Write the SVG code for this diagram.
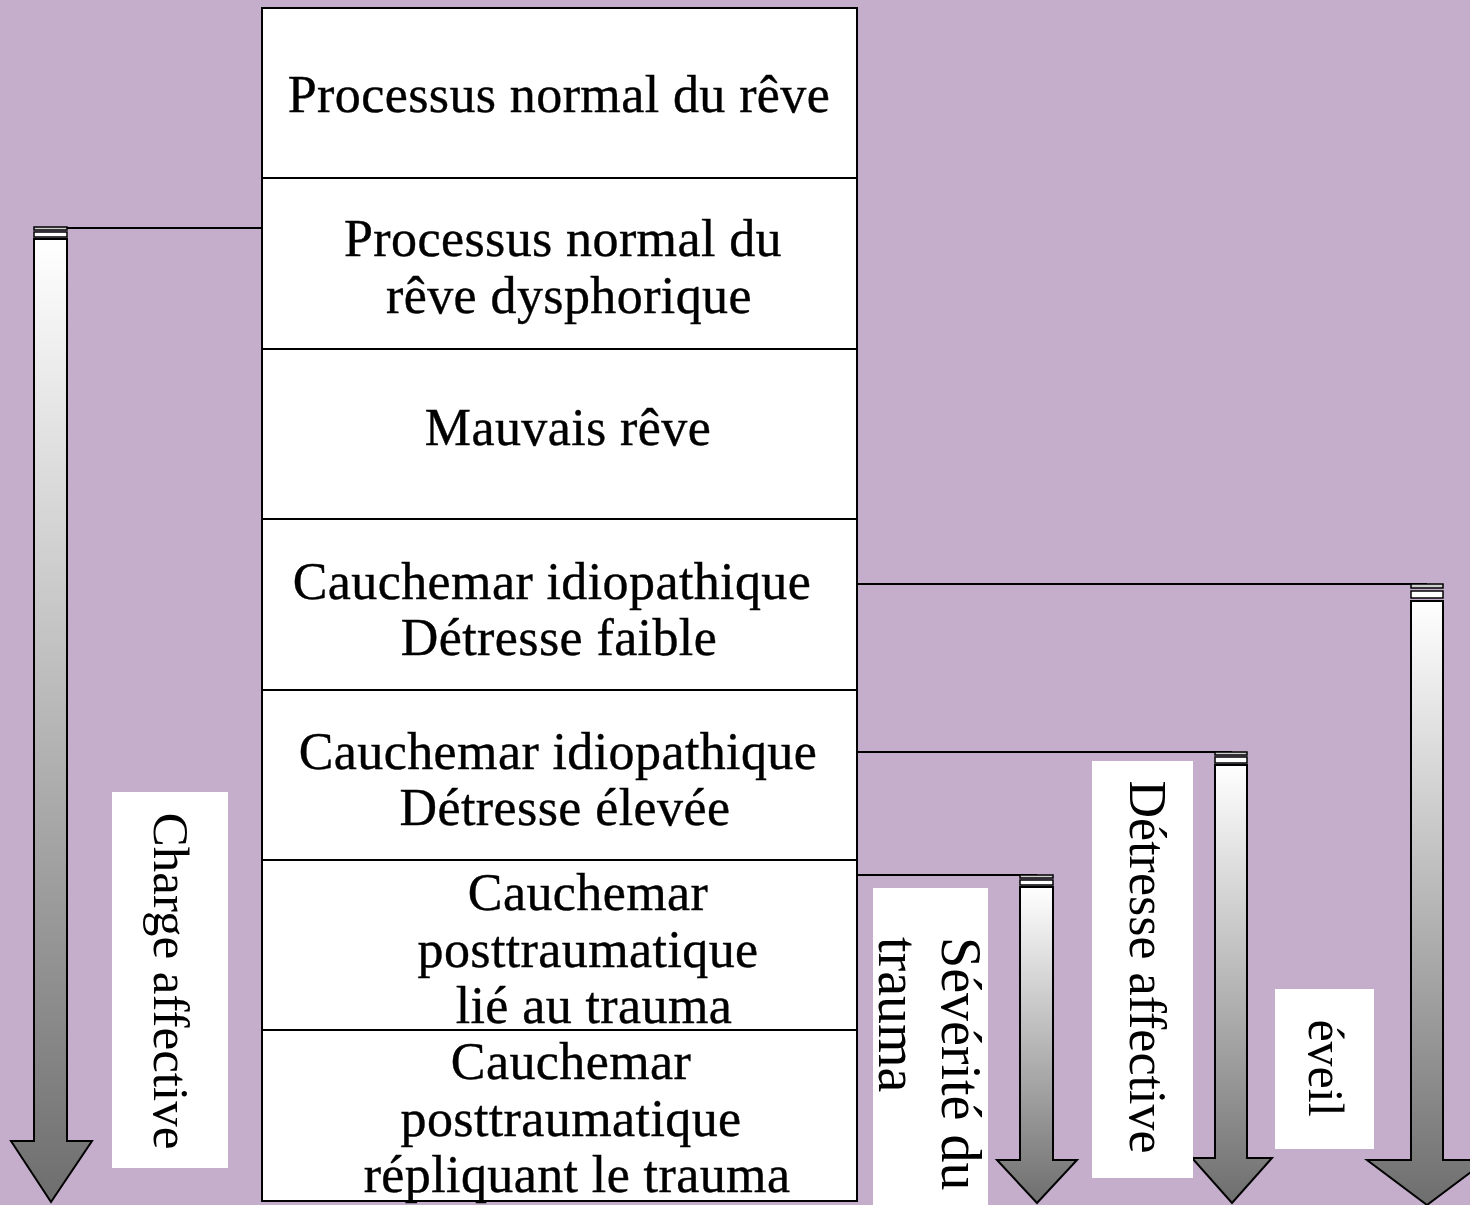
<svg xmlns="http://www.w3.org/2000/svg" width="1470" height="1205" viewBox="0 0 1470 1205">
<defs>
<linearGradient id="g" x1="0" y1="0" x2="0" y2="1">
<stop offset="0" stop-color="#ffffff"/>
<stop offset="1" stop-color="#6e6e6e"/>
</linearGradient>
<style>
.t{font-family:"Liberation Serif","Times New Roman",serif;font-size:52px;letter-spacing:0.4px;fill:#000;stroke:#000;stroke-width:0.4;text-anchor:middle}
.r{font-family:"Liberation Serif","Times New Roman",serif;fill:#000}
.cell{fill:#fff;stroke:#000;stroke-width:2}
.arr{fill:url(#g);stroke:#000;stroke-width:2;stroke-linejoin:miter}
.s1{fill:#cfcfcf;stroke:#000;stroke-width:1.5}
.s2{fill:#fff;stroke:#000;stroke-width:1.5}
.lbl{fill:#fff}
.con{stroke:#000;stroke-width:2;fill:none}
</style>
</defs>
<rect width="1470" height="1205" fill="#C4AECC"/>

<g id="connectors">
<line class="con" x1="57" y1="228" x2="262" y2="228"/>
<line class="con" x1="857" y1="584" x2="1427" y2="584"/>
<line class="con" x1="857" y1="752" x2="1232" y2="752"/>
<line class="con" x1="857" y1="875" x2="1037" y2="875"/>
</g>

<g id="table">
<g id="n1"><rect class="cell" x="262" y="8" width="595" height="170"/>
<text class="t" x="559" y="112">Processus normal du rêve</text></g>
<g id="n2"><rect class="cell" x="262" y="178" width="595" height="171"/>
<text class="t" x="563" y="256">Processus normal du</text>
<text class="t" x="569" y="313">rêve dysphorique</text></g>
<g id="n3"><rect class="cell" x="262" y="349" width="595" height="170"/>
<text class="t" x="568" y="445">Mauvais rêve</text></g>
<g id="n4"><rect class="cell" x="262" y="519" width="595" height="171"/>
<text class="t" x="552" y="599">Cauchemar idiopathique</text>
<text class="t" x="559" y="655">Détresse faible</text></g>
<g id="n5"><rect class="cell" x="262" y="690" width="595" height="170"/>
<text class="t" x="558" y="769">Cauchemar idiopathique</text>
<text class="t" x="565" y="825">Détresse élevée</text></g>
<g id="n6"><rect class="cell" x="262" y="860" width="595" height="170"/>
<text class="t" x="588" y="910">Cauchemar</text>
<text class="t" x="588" y="967">posttraumatique</text>
<text class="t" x="594" y="1023">lié au trauma</text></g>
<g id="n7"><rect class="cell" x="262" y="1030" width="595" height="171"/>
<text class="t" x="571" y="1079">Cauchemar</text>
<text class="t" x="571" y="1136">posttraumatique</text>
<text class="t" x="577" y="1192">répliquant le trauma</text></g>
</g>

<g id="arrow-charge">
<rect class="s1" x="34" y="227" width="33" height="3"/>
<rect class="s2" x="34" y="232" width="33" height="5"/>
<path class="arr" d="M34,239 H67 V1141 H92 L51,1202 L11,1141 H34 Z"/>
<rect class="lbl" x="112" y="792" width="116" height="376"/>
<text class="r" font-size="51" text-anchor="middle" transform="translate(154,981) rotate(90)">Charge affective</text>
</g>

<g id="arrow-severite">
<rect class="s1" x="1020" y="875" width="33" height="3"/>
<rect class="s2" x="1020" y="880" width="33" height="5"/>
<path class="arr" d="M1020,887 H1053 V1160 H1077 L1037,1203 L997,1160 H1020 Z"/>
<rect class="lbl" x="873" y="888" width="115" height="317"/>
<text class="r" font-size="56" transform="translate(942,937) rotate(90)"><tspan x="0" y="0">Sévérité du</tspan><tspan x="0" y="63">trauma</tspan></text>
</g>

<g id="arrow-detresse">
<rect class="s1" x="1215" y="752" width="32" height="3"/>
<rect class="s2" x="1215" y="757" width="32" height="6"/>
<path class="arr" d="M1215,765 H1247 V1158 H1272 L1232,1203 L1192,1158 H1215 Z"/>
<rect class="lbl" x="1092" y="761" width="101" height="417"/>
<text class="r" font-size="52" text-anchor="middle" transform="translate(1130,967) rotate(90)">Détresse affective</text>
</g>

<g id="arrow-eveil">
<rect class="s1" x="1411" y="584" width="32" height="4"/>
<rect class="s2" x="1411" y="591" width="32" height="7"/>
<path class="arr" d="M1411,601 H1443 V1160 H1487 L1427,1205 L1367,1160 H1411 Z"/>
<rect class="lbl" x="1275" y="989" width="99" height="160"/>
<text class="r" font-size="50" text-anchor="middle" transform="translate(1309,1068) rotate(90)">éveil</text>
</g>
</svg>
